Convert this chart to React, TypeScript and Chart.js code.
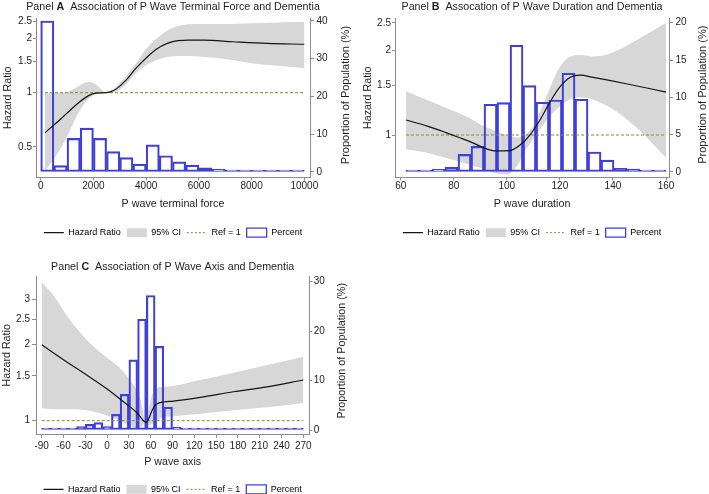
import React, { useEffect, useRef } from 'react';
import { Chart, registerables } from 'chart.js';

Chart.register(...registerables);

const FONT = '"Liberation Sans", Arial, Helvetica, sans-serif';
Chart.defaults.font.family = FONT;

const AXIS = '#8c8c8c';
const TEXT = '#1e1e1e';
const BAND = '#d7d7d7';
const BAR = '#3f3fdc';
const REF = '#86863a';
const LINE = '#141414';

// ---------- Panel A : P wave terminal force ----------
const aHrX = [163, 600, 1000, 1400, 1800, 2100, 2480, 2800, 3200, 3600, 4000, 4400, 4800, 5200, 5600, 6200, 7300, 8600, 10000];
const aHr = [0.6, 0.68, 0.77, 0.87, 0.96, 0.995, 1.0, 1.035, 1.16, 1.36, 1.56, 1.75, 1.88, 1.95, 1.96, 1.96, 1.92, 1.88, 1.86];
const aCiX = [163, 600, 1000, 1400, 1800, 2100, 2480, 2800, 3200, 3600, 4000, 4400, 4800, 5200, 5600, 6200, 7000, 8000, 9000, 10000];
const aCiHi = [0.99, 1.0, 1.01, 1.08, 1.15, 1.11, 1.0, 1.06, 1.22, 1.45, 1.75, 2.0, 2.22, 2.34, 2.4, 2.41, 2.41, 2.43, 2.46, 2.48];
const aCiLo = [0.365, 0.45, 0.57, 0.76, 0.92, 0.98, 1.0, 1.01, 1.1, 1.28, 1.42, 1.52, 1.58, 1.6, 1.6, 1.58, 1.54, 1.46, 1.41, 1.37];
const aBinX = [250, 750, 1250, 1750, 2250, 2750, 3250, 3750, 4250, 4750, 5250, 5750, 6250, 6750, 7250, 7750, 8250, 8750, 9250, 9750];
const aPct = [40.0, 1.7, 8.9, 11.6, 8.9, 5.4, 3.8, 2.1, 7.2, 4.3, 2.7, 1.8, 1.1, 0.7, 0.35, 0.3, 0.25, 0.2, 0.1, 0.1];
const aRefX = [163, 10000];
const aXTicks = [0, 2000, 4000, 6000, 8000, 10000];
const aHrTicks = [0.5, 1, 1.5, 2, 2.5];
const aPctTicks = [0, 10, 20, 30, 40];

// ---------- Panel B : P wave duration ----------
const bHrX = [62, 70, 77, 82, 87, 92, 96, 101, 105, 108.7, 112.5, 116.3, 120, 123.8, 127.6, 132.6, 145, 160];
const bHr = [1.13, 1.075, 1.02, 0.98, 0.94, 0.895, 0.878, 0.88, 0.922, 1.0, 1.13, 1.31, 1.48, 1.6, 1.63, 1.6, 1.52, 1.42];
const bCiX = [62, 70, 77, 85, 90, 95, 100, 104, 107, 110, 113, 116, 119, 122, 125, 128, 132, 137, 142, 150, 160];
const bCiHi = [1.43, 1.33, 1.25, 1.16, 1.09, 1.04, 1.0, 0.98, 1.0, 1.08, 1.24, 1.45, 1.68, 1.84, 1.91, 1.92, 1.9, 1.92, 2.0, 2.2, 2.5];
const bCiLo = [0.89, 0.865, 0.83, 0.79, 0.765, 0.735, 0.725, 0.78, 0.88, 0.97, 1.06, 1.16, 1.24, 1.31, 1.35, 1.36, 1.34, 1.28, 1.2, 1.04, 0.83];
const bBinX = [64.45, 69.35, 74.25, 79.15, 84.05, 88.95, 93.85, 98.75, 103.65, 108.55, 113.45, 118.35, 123.25, 128.15, 133.05, 137.95, 142.85, 147.75, 152.65, 157.55];
const bPct = [0.18, 0.2, 0.36, 0.63, 2.37, 3.44, 9.07, 9.29, 16.98, 11.57, 9.34, 9.65, 13.23, 9.74, 2.68, 1.6, 0.5, 0.4, 0.18, 0.1];
const bRefX = [62, 160];
const bXTicks = [60, 80, 100, 120, 140, 160];
const bHrTicks = [1, 1.5, 2, 2.5];
const bPctTicks = [0, 5, 10, 15, 20];

// ---------- Panel C : P wave axis ----------
const cHrX = [-90, -56, -28, 0, 27, 41, 50, 54, 58, 62, 66, 70, 78, 91, 128, 174, 220, 270];
const cHr = [1.99, 1.707, 1.513, 1.333, 1.16, 1.075, 1.0, 0.985, 1.03, 1.1, 1.15, 1.17, 1.185, 1.195, 1.236, 1.3, 1.36, 1.446];
const cCiX = [-90, -74, -51, -28, -5, 18, 31, 43, 48, 53, 57, 61, 68, 77, 91, 128, 174, 220, 270];
const cCiHi = [3.52, 3.12, 2.49, 2.08, 1.815, 1.61, 1.45, 1.28, 1.15, 0.985, 1.1, 1.24, 1.34, 1.36, 1.37, 1.446, 1.545, 1.657, 1.786];
const cCiLo = [1.12, 1.11, 1.11, 1.1, 1.06, 1.0, 0.955, 0.935, 0.95, 0.985, 0.955, 0.97, 1.005, 1.03, 1.04, 1.065, 1.1, 1.13, 1.175];
const cBinX = [-84, -72, -60, -48, -36, -24, -12, 0, 12, 24, 36, 48, 60, 72, 84, 96, 108, 120, 132, 144, 156, 168, 180, 192, 204, 216, 228, 240, 252, 264];
const cPct = [0.1, 0.1, 0.15, 0.3, 0.7, 1.15, 1.48, 0.67, 3.17, 7.2, 14.2, 22.4, 27.2, 16.9, 4.6, 0.55, 0.3, 0.15, 0.1, 0.08, 0.06, 0.05, 0.05, 0.05, 0.05, 0.05, 0.05, 0.1, 0.15, 0.2];
const cRefX = [-90, 270];
const cXTicks = [-90, -60, -30, 0, 30, 60, 90, 120, 150, 180, 210, 240, 270];
const cHrTicks = [1, 1.5, 2, 2.5, 3];
const cPctTicks = [0, 10, 20, 30];

const refY = [1, 1];

const legendItems = [
  { text: 'Hazard Ratio', pointStyle: 'line', strokeStyle: LINE, fillStyle: 'rgba(0,0,0,0)', lineWidth: 1.2, hidden: false },
  { text: '95% CI', pointStyle: 'rect', strokeStyle: BAND, fillStyle: BAND, lineWidth: 0, hidden: false },
  { text: 'Ref = 1', pointStyle: 'line', strokeStyle: REF, fillStyle: 'rgba(0,0,0,0)', lineWidth: 1, lineDash: [2, 2], hidden: false },
  { text: 'Percent', pointStyle: 'rect', strokeStyle: BAR, fillStyle: '#ffffff', lineWidth: 1.3, hidden: false },
];

const panelText = {
  id: 'panelText',
  afterDraw(chart: any, _args: any, o: any) {
    const { ctx, chartArea: a } = chart;
    ctx.save();
    ctx.fillStyle = TEXT;
    ctx.textBaseline = 'alphabetic';
    ctx.textAlign = 'left';
    const parts: [string, boolean][] = [['Panel ', false], [o.letter, true], ['  ' + o.title, false]];
    const fontOf = (b: boolean) => `${b ? 'bold ' : ''}${o.titleSize}px ${FONT}`;
    let total = 0;
    const widths = parts.map(([t, b]) => {
      ctx.font = fontOf(b);
      const w = ctx.measureText(t).width;
      total += w;
      return w;
    });
    let x = (a.left + a.right) / 2 - total / 2;
    parts.forEach(([t, b], i) => {
      ctx.font = fontOf(b);
      ctx.fillText(t, x, o.titleY);
      x += widths[i];
    });
    ctx.translate(a.right + o.rightDx, (a.top + a.bottom) / 2 + o.rightDy);
    ctx.rotate(-Math.PI / 2);
    ctx.textAlign = 'center';
    ctx.textBaseline = 'middle';
    ctx.font = `${o.rightSize}px ${FONT}`;
    ctx.fillText('Proportion of Population (%)', 0, 0);
    ctx.restore();
  },
};

const pts = (xs: number[], ys: number[]) => xs.map((x, i) => ({ x, y: ys[i] }));
const fixTicks = (vals: number[]) => (s: any) => {
  s.ticks = vals.map((v) => ({ value: v }));
};

const panels = [
  {
    key: 'A', left: 0, top: 0, w: 360, h: 250,
    pad: { top: 18, left: 0, right: 0, bottom: 2.8 },
    leftW: 36, rightW: 50, xAxisH: 44.7, xTickLen: 3, xTickPad: 0, xTitlePadB: 11.28, yTitlePad: 1.58,
    yTickLen: 3, yTickPad: 1, rTickLen: 4, rTickPad: 2.5,
    xMin: -178.3, xMax: 10216, yMin: 0.3376, yMax: 2.603, rMin: -1.457, rMax: 40.79,
    title: 'Association of P Wave Terminal Force and Dementia', titleY: 9.6, titleSize: 10.7,
    rightDx: 35.8, rightDy: -2.7, rightSize: 11,
    xTitle: 'P wave terminal force',
    hrX: aHrX, hr: aHr, ciX: aCiX, ciHi: aCiHi, ciLo: aCiLo, binX: aBinX, pct: aPct, refX: aRefX,
    xTicks: aXTicks, hrTicks: aHrTicks, pctTicks: aPctTicks,
  },
  {
    key: 'B', left: 360, top: 0, w: 349, h: 250,
    pad: { top: 18, left: 0, right: 0, bottom: 2.8 },
    leftW: 35, rightW: 40, xAxisH: 44.7, xTickLen: 3, xTickPad: 0, xTitlePadB: 11.28, yTitlePad: 1.58,
    yTickLen: 3, yTickPad: 1, rTickLen: 4, rTickPad: 2.5,
    xMin: 57.85, xMax: 161.13, yMin: 0.7069, yMax: 2.599, rMin: -0.737, rMax: 20.63,
    title: 'Assocation of P Wave Duration and Dementia', titleY: 9.6, titleSize: 10.7,
    rightDx: 34, rightDy: -3, rightSize: 11,
    xTitle: 'P wave duration',
    hrX: bHrX, hr: bHr, ciX: bCiX, ciHi: bCiHi, ciLo: bCiLo, binX: bBinX, pct: bPct, refX: bRefX,
    xTicks: bXTicks, hrTicks: bHrTicks, pctTicks: bPctTicks,
  },
  {
    key: 'C', left: 0, top: 250, w: 360, h: 256,
    pad: { top: 26.7, left: 0, right: 0, bottom: 2.2 },
    leftW: 36, rightW: 50.7, xAxisH: 44.8, xTickLen: 4, xTickPad: 2.7, xTitlePadB: 9.88, yTitlePad: 0.78,
    yTickLen: 4, yTickPad: 2, rTickLen: 3, rTickPad: 1.5,
    xMin: -97.84, xMax: 278.24, yMin: 0.8864, yMax: 3.69, rMin: -0.809, rMax: 31.01,
    title: 'Association of P Wave Axis and Dementia', titleY: 20, titleSize: 10.7,
    rightDx: 32.4, rightDy: -4.6, rightSize: 10.8,
    xTitle: 'P wave axis',
    hrX: cHrX, hr: cHr, ciX: cCiX, ciHi: cCiHi, ciLo: cCiLo, binX: cBinX, pct: cPct, refX: cRefX,
    xTicks: cXTicks, hrTicks: cHrTicks, pctTicks: cPctTicks,
  },
];

function buildConfig(p: any): any {
  const tickFont = { size: 10 };
  const titleFont = { size: 10.7 };
  return {
    type: 'bar',
    data: {
      datasets: [
        {
          type: 'line', label: 'Hazard Ratio', data: pts(p.hrX, p.hr), xAxisID: 'x', yAxisID: 'y',
          borderColor: LINE, borderWidth: 1.2, pointRadius: 0, cubicInterpolationMode: 'monotone', fill: false, order: 0,
        },
        {
          type: 'line', label: 'Ref = 1', data: pts(p.refX, refY), xAxisID: 'x', yAxisID: 'y',
          borderColor: REF, borderWidth: 1, borderDash: [3, 2], pointRadius: 0, fill: false, order: 1,
        },
        {
          type: 'bar', label: 'Percent', data: pts(p.binX, p.pct), xAxisID: 'x', yAxisID: 'y1',
          backgroundColor: 'rgba(255,255,255,0)', borderColor: BAR, borderWidth: 1.5, borderSkipped: false,
          barPercentage: 1, categoryPercentage: 1, minBarLength: 2, order: 2,
        },
        {
          type: 'line', label: '95% CI', data: pts(p.ciX, p.ciHi), xAxisID: 'x', yAxisID: 'y',
          borderColor: 'rgba(0,0,0,0)', borderWidth: 0, pointRadius: 0, cubicInterpolationMode: 'monotone',
          backgroundColor: BAND, fill: '+1', order: 3,
        },
        {
          type: 'line', label: 'CI lower', data: pts(p.ciX, p.ciLo), xAxisID: 'x', yAxisID: 'y',
          borderColor: 'rgba(0,0,0,0)', borderWidth: 0, pointRadius: 0, cubicInterpolationMode: 'monotone',
          fill: false, order: 4,
        },
      ],
    },
    options: {
      responsive: false,
      maintainAspectRatio: false,
      animation: false,
      events: [],
      layout: { padding: p.pad },
      plugins: {
        tooltip: { enabled: false },
        title: { display: false },
        legend: {
          display: true,
          position: 'bottom',
          fullSize: false,
          labels: {
            usePointStyle: true,
            pointStyleWidth: 20,
            boxHeight: 9,
            padding: 6,
            color: TEXT,
            font: { size: 9 },
            generateLabels: () => legendItems.map((it, i) => ({ ...it, datasetIndex: i })),
          },
        },
        panelText: {
          letter: p.key, title: p.title, titleY: p.titleY, titleSize: p.titleSize,
          rightDx: p.rightDx, rightDy: p.rightDy, rightSize: p.rightSize,
        },
      },
      scales: {
        x: {
          type: 'linear', position: 'bottom', min: p.xMin, max: p.xMax, offset: false, bounds: 'data',
          afterBuildTicks: fixTicks(p.xTicks),
          afterFit: (s: any) => { s.height = p.xAxisH; },
          grid: { display: true, drawOnChartArea: false, drawTicks: true, tickLength: p.xTickLen, color: AXIS, offset: false },
          border: { display: true, color: AXIS, width: 1 },
          ticks: { autoSkip: false, maxRotation: 0, minRotation: 0, padding: p.xTickPad, color: TEXT, font: tickFont, callback: (v: any) => String(v) },
          title: { display: true, text: p.xTitle, color: TEXT, font: titleFont, padding: { top: 0, bottom: p.xTitlePadB } },
        },
        y: {
          type: 'logarithmic', position: 'left', min: p.yMin, max: p.yMax, bounds: 'data',
          afterBuildTicks: fixTicks(p.hrTicks),
          afterFit: (s: any) => { s.width = p.leftW; },
          grid: { display: true, drawOnChartArea: false, drawTicks: true, tickLength: p.yTickLen, color: AXIS },
          border: { display: true, color: AXIS, width: 1 },
          ticks: { autoSkip: false, padding: p.yTickPad, color: TEXT, font: tickFont, callback: (v: any) => String(v) },
          title: { display: true, text: 'Hazard Ratio', color: TEXT, font: titleFont, padding: { top: p.yTitlePad, bottom: 0 } },
        },
        y1: {
          type: 'linear', position: 'right', min: p.rMin, max: p.rMax, bounds: 'data', beginAtZero: false,
          afterBuildTicks: fixTicks(p.pctTicks),
          afterFit: (s: any) => { s.width = p.rightW; },
          grid: { display: true, drawOnChartArea: false, drawTicks: true, tickLength: p.rTickLen, color: AXIS },
          border: { display: true, color: AXIS, width: 1 },
          ticks: { autoSkip: false, padding: p.rTickPad, color: TEXT, font: tickFont, callback: (v: any) => String(v) },
          title: { display: false },
        },
      },
    },
    plugins: [panelText],
  };
}

function Panel({ p }: { p: any }) {
  const ref = useRef<HTMLCanvasElement>(null);
  useEffect(() => {
    if (!ref.current) return;
    const chart = new Chart(ref.current, buildConfig(p));
    return () => chart.destroy();
  }, [p]);
  return (
    <canvas
      ref={ref}
      width={p.w}
      height={p.h}
      style={{ position: 'absolute', left: p.left, top: p.top, width: p.w, height: p.h }}
    />
  );
}

export default function App() {
  return (
    <div style={{ position: 'fixed', left: 0, top: 0, width: 709, height: 494, overflow: 'hidden', background: '#ffffff' }}>
      {panels.map((p) => (
        <Panel key={p.key} p={p} />
      ))}
    </div>
  );
}
